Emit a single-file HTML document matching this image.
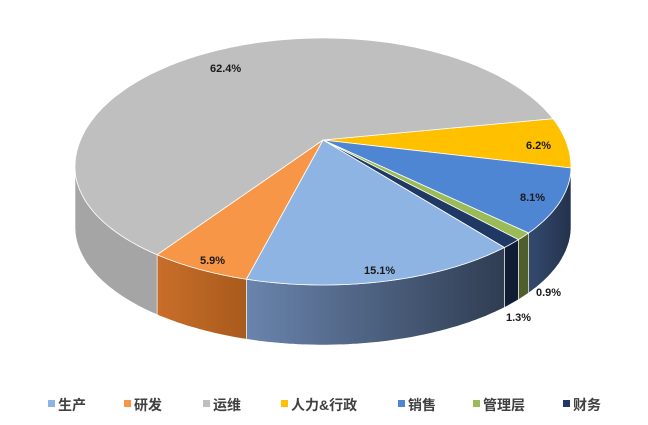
<!DOCTYPE html>
<html><head><meta charset="utf-8"><style>
body{margin:0;background:#fff;width:648px;height:425px;overflow:hidden}
svg{display:block}
text{font-family:"Liberation Sans","Noto Sans CJK SC",sans-serif}
</style></head><body>
<svg id="s" width="648" height="425" xmlns="http://www.w3.org/2000/svg">
<defs>
<linearGradient id="gb" x1="0" x2="1" y1="0" y2="0"><stop offset="0" stop-color="#6a84ad"/><stop offset="1" stop-color="#2f3d52"/></linearGradient>
<linearGradient id="go" x1="0" x2="1" y1="0" y2="0"><stop offset="0" stop-color="#c96e2a"/><stop offset="1" stop-color="#a85a1c"/></linearGradient>
<linearGradient id="gs" x1="0" x2="1" y1="0" y2="0"><stop offset="0" stop-color="#344a6e"/><stop offset="1" stop-color="#23324c"/></linearGradient>
</defs>
<g id="g"></g>
<g font-size="11" font-weight="bold" fill="#1a1a1a">
<text x="210" y="72">62.4%</text>
<text x="526" y="149">6.2%</text>
<text x="520" y="201">8.1%</text>
<text x="200" y="264">5.9%</text>
<text x="364" y="274">15.1%</text>
<text x="536" y="296">0.9%</text>
<text x="506" y="321">1.3%</text>
</g>
<g font-size="14" font-weight="bold" fill="#404040">
<rect x="48" y="400" width="7" height="7" fill="#8eb4e3"/><text x="58" y="410">生产</text>
<rect x="124" y="400" width="7" height="7" fill="#f79646"/><text x="134" y="410">研发</text>
<rect x="203" y="400" width="7" height="7" fill="#bfbfbf"/><text x="213" y="410">运维</text>
<rect x="281" y="400" width="7" height="7" fill="#ffc000"/><text x="291" y="410">人力&amp;行政</text>
<rect x="398" y="400" width="7" height="7" fill="#4f86d4"/><text x="408" y="410">销售</text>
<rect x="473" y="400" width="7" height="7" fill="#9bbb59"/><text x="483" y="410">管理层</text>
<rect x="563" y="400" width="7" height="7" fill="#1f3864"/><text x="573" y="410">财务</text>
</g>
</svg>
<script>
var cx=323,cy=167,rx=248,ryT=129,ryB=118,ax=323,ay=140,D=60;
function P(t){t=t*Math.PI/180;var s=Math.sin(t);return [cx+rx*Math.cos(t),cy+(s<0?ryT:ryB)*s];}
function arc(a,b,dy){var s="";for(var t=a;;t+=1){if(t>b)t=b;var p=P(t);s+=(s?"L":"")+p[0].toFixed(1)+","+(p[1]+dy).toFixed(1);if(t==b)break;}return s;}
var sl=[[-22,0.5,"#ffc000","#c79500"],[0.5,34,"#4f86d4","url(#gs)"],[34,38,"#9bbb59","#4e5e2c"],[38,43,"#1f3864","#101c33"],[43,108,"#8eb4e3","url(#gb)"],[108,132,"#f79646","url(#go)"],[132,338,"#bfbfbf","#a5a5a5"]];
var h="";
sl.forEach(function(s){var a=Math.max(s[0],0),b=Math.min(s[1],180);if(b>a){var top=arc(a,b,0);var pb=[];for(var t=b;;t-=1){if(t<a)t=a;var p=P(t);pb.push(p[0].toFixed(1)+","+(p[1]+D).toFixed(1));if(t==a)break;}h+='<path d="M'+top+"L"+pb.join("L")+'Z" fill="'+s[3]+'" stroke="#fff" stroke-width="0.6"/>';}});
sl.forEach(function(s){h+='<path d="M'+ax+","+ay+"L"+arc(s[0],s[1],0)+'Z" fill="'+s[2]+'" stroke="#fff" stroke-width="0.8"/>';});
document.getElementById("g").innerHTML=h;
</script>
</body></html>
